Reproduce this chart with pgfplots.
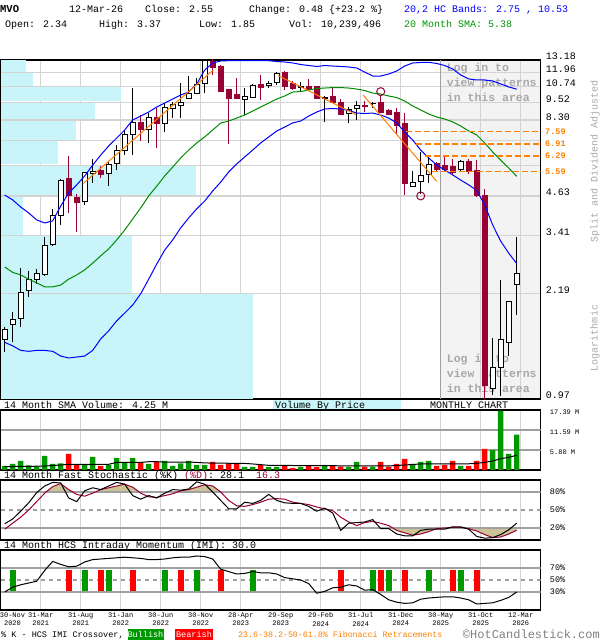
\documentclass[border=0pt]{standalone}
\usepackage{fontspec}
\setmainfont{Liberation Mono}
\usepackage{pgfplots}
\usepackage{pgfplotstable}
\pgfplotsset{compat=1.18}

\definecolor{candlered}{RGB}{153,0,51}
\definecolor{vbp}{RGB}{200,244,250}
\definecolor{gridgray}{RGB}{211,211,211}
\definecolor{linegray}{RGB}{160,160,160}
\definecolor{shade}{RGB}{243,243,243}
\definecolor{bandblue}{RGB}{0,0,255}
\definecolor{smagreen}{RGB}{0,140,0}
\definecolor{trendorange}{RGB}{255,128,0}
\definecolor{fiborange}{RGB}{255,128,0}
\definecolor{volgreen}{RGB}{0,153,0}
\definecolor{volred}{RGB}{255,0,0}
\definecolor{khaki}{RGB}{204,196,150}
\definecolor{textgray}{RGB}{168,168,168}
\definecolor{hdrblue}{RGB}{0,0,255}
\definecolor{hdrgreen}{RGB}{0,150,0}

% monthly candles: index, open, high, low, close
\pgfplotstableread{
i o h l c
0 1.53 1.69 1.39 1.66
1 1.72 1.89 1.50 1.79
2 1.80 2.65 1.69 2.20
3 2.23 2.59 2.13 2.43
4 2.43 2.64 2.35 2.54
5 2.52 3.38 2.50 3.15
6 3.19 4.18 3.15 3.97
7 3.98 5.28 3.71 5.23
8 5.31 6.31 4.05 4.64
9 4.58 4.70 3.51 4.41
10 4.45 5.58 4.33 5.53
11 5.50 6.13 5.12 5.58
12 5.63 5.84 5.31 5.47
13 5.50 5.99 4.99 5.89
14 5.93 6.86 5.65 6.59
15 6.59 7.69 6.36 7.42
16 7.42 10.60 6.34 8.16
17 8.16 8.63 7.07 7.71
18 7.71 8.75 6.94 8.48
19 8.48 9.09 6.68 8.07
20 8.10 9.45 7.59 9.13
21 9.04 9.57 8.41 9.33
22 9.28 11.02 8.41 9.53
23 9.82 11.68 9.76 10.20
24 10.20 11.45 10.12 10.93
25 11.02 13.60 10.25 13.10
26 13.10 13.60 11.70 12.50
27 12.60 12.65 10.40 10.40
28 10.50 10.50 6.90 9.80
29 10.15 11.50 9.80 9.80
30 9.76 10.60 8.63 9.96
31 9.90 10.93 9.87 10.87
32 10.96 11.75 9.69 10.65
33 10.84 11.20 10.60 11.02
34 11.10 12.00 10.87 11.90
35 11.95 12.10 10.46 10.80
36 11.02 11.20 10.50 10.60
37 10.65 11.15 10.30 10.73
38 10.80 11.40 10.50 10.50
39 10.73 10.80 9.80 9.82
40 9.82 10.00 8.20 9.90
41 9.96 10.60 9.46 9.50
42 9.53 9.76 8.63 8.70
43 8.75 9.15 8.10 9.00
44 9.04 9.62 8.30 9.28
45 9.30 9.62 8.85 9.26
46 9.40 9.57 9.11 9.45
47 9.50 10.03 8.80 8.80
48 8.97 9.02 8.65 8.67
49 8.80 9.08 7.38 8.00
50 8.10 8.75 4.65 5.12
51 4.98 5.59 4.95 5.13
52 5.19 6.50 4.70 5.43
53 5.45 6.34 5.12 5.89
54 5.95 6.02 5.56 5.70
55 5.84 6.24 5.59 5.70
56 5.81 6.14 5.49 5.57
57 5.67 6.11 5.57 6.03
58 6.03 6.17 5.49 5.59
59 5.65 6.10 4.60 4.67
60 4.67 4.90 0.95 1.08
61 1.05 1.55 1.00 1.24
62 1.24 2.42 0.99 1.53
63 1.50 2.07 1.35 2.05
64 2.34 3.37 1.85 2.55
}\candles

% HC bands (upper, lower) and 20 month SMA
\pgfplotstableread{
i ub lb sma
0 4.66 1.50 2.68
1 4.49 1.46 2.57
2 4.25 1.41 2.52
3 4.06 1.40 2.44
4 3.85 1.41 2.37
5 3.76 1.41 2.30
6 3.82 1.40 2.30
7 4.28 1.35 2.33
8 4.74 1.33 2.44
9 5.04 1.34 2.52
10 5.40 1.35 2.62
11 5.87 1.41 2.76
12 6.34 1.54 2.92
13 6.80 1.64 3.08
14 7.23 1.77 3.30
15 7.69 1.88 3.56
16 8.31 2.00 3.88
17 8.56 2.18 4.22
18 8.83 2.44 4.63
19 9.18 2.74 4.99
20 9.46 3.05 5.40
21 9.76 3.30 5.78
22 10.07 3.62 6.20
23 10.30 3.91 6.59
24 10.96 4.19 6.96
25 12.20 4.45 7.29
26 12.88 4.81 7.69
27 13.08 5.15 8.11
28 13.11 5.57 8.24
29 13.11 5.92 8.43
30 13.11 6.25 8.63
31 13.11 6.59 8.90
32 13.11 6.96 9.18
33 13.11 7.29 9.46
34 13.03 7.63 9.76
35 12.98 7.87 9.99
36 12.88 8.12 10.30
37 12.73 8.24 10.34
38 12.63 8.56 10.46
39 12.54 8.83 10.58
40 12.63 9.04 10.62
41 12.58 9.07 10.66
42 12.54 9.04 10.66
43 12.49 8.94 10.62
44 12.39 8.76 10.54
45 12.01 8.73 10.42
46 11.65 8.76 10.22
47 11.65 8.63 10.14
48 11.83 8.43 9.99
49 12.11 8.12 9.87
50 12.58 7.57 9.61
51 12.88 7.12 9.25
52 12.93 6.59 8.97
53 12.95 6.20 8.70
54 12.83 5.87 8.50
55 12.63 5.65 8.37
56 12.30 5.44 8.18
57 11.74 5.23 7.93
58 11.39 5.04 7.63
59 11.30 4.83 7.40
60 11.30 4.32 6.96
61 11.21 3.70 6.49
62 10.96 3.27 6.10
63 10.71 2.98 5.74
64 10.53 2.75 5.38
}\bands

% volume by price: price band low, high, bar length (in months)
\pgfplotstableread{
lo hi len
12.03 13.18 2.625
10.80 11.89 3.59
9.58 10.68 14.5
8.35 9.46 11.25
7.12 8.25 8.875
5.90 7.04 6.71
4.66 5.82 23.9
3.43 4.60 2.34
2.20 3.39 15.9
0.97 2.18 31.0
}\vbpdata

% trend lines, retracement levels, pattern circles
\pgfplotstableread[row sep=\\]{x y\\ 9.83 5.10\\ 26.08 12.20\\}\trendA
\pgfplotstableread[row sep=\\]{x y\\ 34.2 11.68\\ 43.9 8.66\\}\trendB
\pgfplotstableread[row sep=\\]{x y\\ 44.8 10.07\\ 54.0 5.18\\}\trendC
\pgfplotstableread[row sep=\\]{x y\\ 50.1 7.59\\ 67 7.59\\}\fibA
\pgfplotstableread[row sep=\\]{x y\\ 51.4 6.91\\ 67 6.91\\}\fibB
\pgfplotstableread[row sep=\\]{x y\\ 52.5 6.29\\ 67 6.29\\}\fibC
\pgfplotstableread[row sep=\\]{x y\\ 53.4 5.59\\ 67 5.59\\}\fibD
\pgfplotstableread[row sep=\\]{x y\\ 47 10.33\\ 52 4.63\\}\circs
\pgfplotstableread[row sep=\\]{x y\\ 54.5 0.97\\ 54.5 13.18\\}\patternedge

% volume (millions), up flag, 14 month SMA of volume
\pgfplotstableread{
i v u s
0 1.16 1 1.00
1 1.74 1 1.00
2 2.61 1 1.05
3 1.36 1 1.05
4 1.06 1 1.10
5 4.06 1 1.15
6 1.74 1 1.30
7 1.93 1 1.45
8 4.64 0 1.65
9 1.55 0 1.65
10 1.64 1 1.65
11 3.77 1 1.65
12 1.16 0 1.65
13 1.45 1 1.65
14 3.48 1 2.20
15 2.22 1 2.20
16 3.48 1 2.20
17 2.13 0 2.20
18 1.74 1 2.40
19 2.32 0 2.40
20 2.61 1 2.30
21 1.16 1 2.30
22 1.93 1 2.30
23 2.61 1 2.30
24 1.45 1 2.20
25 1.45 1 2.05
26 2.32 0 2.00
27 1.45 0 2.00
28 1.93 0 1.95
29 1.93 0 1.95
30 0.87 1 1.90
31 0.87 1 1.75
32 1.45 0 1.55
33 0.87 1 1.35
34 0.87 1 1.35
35 1.26 0 1.35
36 0.58 0 1.30
37 0.87 1 1.30
38 1.26 0 1.30
39 0.87 0 1.26
40 1.45 1 1.26
41 1.36 0 1.26
42 0.97 0 1.20
43 0.87 1 1.20
44 2.32 1 1.20
45 0.97 0 1.20
46 0.97 1 1.20
47 2.32 0 1.16
48 0.97 0 1.16
49 1.74 0 1.30
50 3.19 0 1.45
51 1.74 1 1.60
52 2.32 1 1.74
53 2.61 1 1.74
54 1.16 0 1.74
55 1.45 0 1.74
56 2.61 0 1.74
57 1.16 1 1.74
58 1.16 0 1.80
59 2.61 0 1.93
60 6.09 0 2.22
61 5.80 1 2.61
62 17.10 1 3.29
63 4.64 1 3.67
64 10.24 1 4.25
}\volume

% fast stochastic %K, %D and intraday momentum
\pgfplotstableread{
i k d m
0 27 18 30
1 35 28 38
2 48 38 42
3 62 50 45
4 79 64 48
5 90 78 66
6 96 89 81
7 95 94 76
8 70 84 72
9 64 76 73
10 82 73 80
11 87 78 84
12 84 84 85
13 90 87 86
14 96 90 87
15 93 93 88
16 74 88 87
17 68 78 86
18 74 72 84
19 70 71 84
20 78 74 85
21 84 77 87
22 83 82 88
23 85 84 88
24 97 88 90
25 93 92 89
26 80 90 85
27 66 80 68
28 52 66 64
29 52 57 60
30 63 56 61
31 61 59 64
32 66 63 62
33 76 68 62
34 66 69 60
35 62 68 54
36 61 63 52
37 61 61 50
38 56 59 44
39 48 55 28
40 53 52 31
41 45 49 37
42 16 38 38
43 28 30 42
44 29 24 40
45 30 29 33
46 34 31 34
47 19 28 26
48 19 24 17
49 10 16 13
50 7 12 11
51 7 8 12
52 16 10 18
53 18 14 20
54 18 19 21
55 18 20 22
56 22 21 22
57 22 21 20
58 18 19 17
59 6 15 10
60 3 9 11
61 4 4 12
62 9 5 16
63 17 10 21
64 28.1 16.3 30
}\osc

\pgfplotsset{
  panel/.style={
    scale only axis, width=540bp, anchor=south west,
    xmin=-0.5, xmax=67,
    xtick={-0.5,4.5,9.5,14.5,19.5,24.5,29.5,34.5,39.5,44.5,49.5,54.5,59.5,64.5},
    xticklabels={},
    xmajorgrids,
    major grid style={draw=gridgray, line width=1.3bp},
    major tick length=0pt,
    tick style={draw=none},
    yticklabel pos=right,
    axis line style={draw=black, line width=1.5bp},
    clip=true,
  },
  % price panel: vertical coordinate is the natural log of the price (logarithmic scale)
  mainoverlay/.style={
    scale only axis, width=540bp, height=339bp, anchor=south west, at={(0.7bp,241bp)},
    xmin=-0.5, xmax=67, ymin=-0.030459, ymax=2.578700, hide axis, clip=true,
  },
}

\begin{document}
\begin{tikzpicture}[x=1bp,y=1bp]
\path (0,0) rectangle (600,640);

% ---------- header ----------
\begin{scope}[every node/.style={anchor=base west, inner sep=0pt, font=\fontsize{10bp}{12bp}\selectfont}]
\node[font=\fontsize{10.5bp}{12bp}\selectfont\bfseries] at (0,627) {MVO};
\node at (69,627) {12-Mar-26};
\node at (145,627) {Close: 2.55};
\node at (249,627) {Change: 0.48 \{+23.2 \%\}};
\node[text=hdrblue] at (404,627) {20,2 HC Bands: 2.75 , 10.53};
\node at (5,612) {Open: 2.34};
\node at (99,612) {High: 3.37};
\node at (199,612) {Low: 1.85};
\node at (289,612) {Vol: 10,239,496};
\node[text=hdrgreen] at (404,612) {20 Month SMA: 5.38};
\end{scope}

% ---------- shaded "patterns" area ----------
\begin{axis}[scale only axis, width=540bp, height=339bp, anchor=south west, at={(0.7bp,241bp)},
  xmin=-0.5, xmax=67, ymin=0, ymax=1, hide axis]
\addplot[fill=shade, draw=none] coordinates {(54.5,0) (67,0) (67,1) (54.5,1)} -- cycle;
\end{axis}

% ---------- main price panel: frame, grid, volume by price ----------
\begin{axis}[panel, at={(0.7bp,241bp)}, height=339bp,
  ymin=-0.030459, ymax=2.578700,
  ytick={-0.030459,0.783902,1.226712,1.532557,1.768150,1.957274,2.116256,2.253395,2.373975,2.481568,2.578700},
  yticklabels={0.97,2.19,3.41,4.63,,,8.30,9.52,10.74,11.96,13.18},
  ymajorgrids,
  yticklabel style={anchor=base west, inner sep=0pt, xshift=5bp, font=\fontsize{10bp}{12bp}\selectfont},
]
\pgfplotsinvokeforeach{0,...,9}{
  \pgfplotstablegetelem{#1}{lo}\of\vbpdata \pgfmathparse{ln(\pgfplotsretval)}\let\vA\pgfmathresult
  \pgfplotstablegetelem{#1}{hi}\of\vbpdata \pgfmathparse{ln(\pgfplotsretval)}\let\vB\pgfmathresult
  \pgfplotstablegetelem{#1}{len}\of\vbpdata \let\vL\pgfplotsretval
  \edef\tmp{\noexpand\addplot[fill=vbp, draw=none] coordinates {(-0.5,\vA) (\vL,\vA) (\vL,\vB) (-0.5,\vB)} -- cycle;}
  \tmp
}
\addplot[linegray, line width=1.3bp] table[x=x, y expr=ln(\thisrow{y})] {\patternedge};
\end{axis}

% pattern notes (behind candles)
\begin{scope}[every node/.style={anchor=base west, inner sep=0pt, text=textgray, font=\fontsize{11.5bp}{13bp}\selectfont\bfseries}]
\node at (446.7,568.7) {Log in to};
\node at (446.7,553.7) {view patterns};
\node at (446.7,538.7) {in this area};
\node at (446.7,277) {Log in to};
\node at (446.7,262) {view patterns};
\node at (446.7,247) {in this area};
\end{scope}

% Fibonacci labels
\begin{scope}[every node/.style={anchor=base west, inner sep=0pt, text=fiborange, font=\fontsize{8.5bp}{10bp}\selectfont\bfseries}]
\node at (545,505.5) {7.59};
\node at (545,493.3) {6.91};
\node at (545,481.1) {6.29};
\node at (545,465.8) {5.59};
\end{scope}

% ---------- candles ----------
\begin{axis}[mainoverlay]
\pgfplotsinvokeforeach{0,...,64}{
  \pgfplotstablegetelem{#1}{o}\of\candles \let\cO\pgfplotsretval
  \pgfplotstablegetelem{#1}{h}\of\candles \let\cH\pgfplotsretval
  \pgfplotstablegetelem{#1}{l}\of\candles \let\cL\pgfplotsretval
  \pgfplotstablegetelem{#1}{c}\of\candles \let\cC\pgfplotsretval
  \pgfmathparse{ln(\cO)}\let\lO\pgfmathresult
  \pgfmathparse{ln(\cH)}\let\lH\pgfmathresult
  \pgfmathparse{ln(\cL)}\let\lL\pgfmathresult
  \pgfmathparse{ln(\cC)}\let\lC\pgfmathresult
  \ifdim\cC pt<\cO pt
    \pgfmathsetmacro\xa{#1-0.35}\pgfmathsetmacro\xb{#1+0.35}
    \edef\tmp{\noexpand\addplot[candlered, line width=1.2bp] coordinates {(#1,\lL) (#1,\lH)};
      \noexpand\addplot[fill=candlered, draw=candlered, line width=0.5bp] coordinates {(\xa,\lO) (\xb,\lO) (\xb,\lC) (\xa,\lC)} -- cycle;}
  \else
    \pgfmathsetmacro\xa{#1-0.3}\pgfmathsetmacro\xb{#1+0.3}
    \edef\tmp{\noexpand\addplot[black, line width=1.2bp] coordinates {(#1,\lL) (#1,\lH)};
      \noexpand\addplot[fill=white, draw=black, line width=1bp] coordinates {(\xa,\lO) (\xb,\lO) (\xb,\lC) (\xa,\lC)} -- cycle;}
  \fi
  \tmp
}
\end{axis}

% ---------- bands, trend lines, retracements ----------
\begin{axis}[mainoverlay]
\addplot[bandblue, line width=1bp] table[x=i, y expr=ln(\thisrow{ub})] {\bands};
\addplot[bandblue, line width=1bp] table[x=i, y expr=ln(\thisrow{lb})] {\bands};
\addplot[smagreen, line width=1bp] table[x=i, y expr=ln(\thisrow{sma})] {\bands};
\addplot[trendorange, line width=1bp] table[x=x, y expr=ln(\thisrow{y})] {\trendA};
\addplot[trendorange, line width=1bp] table[x=x, y expr=ln(\thisrow{y})] {\trendB};
\addplot[trendorange, line width=1bp] table[x=x, y expr=ln(\thisrow{y})] {\trendC};
\addplot[fiborange, line width=1.3bp, dash pattern=on 6bp off 3bp] table[x=x, y expr=ln(\thisrow{y})] {\fibA};
\addplot[fiborange, line width=1.3bp, dash pattern=on 6bp off 3bp] table[x=x, y expr=ln(\thisrow{y})] {\fibB};
\addplot[fiborange, line width=1.3bp, dash pattern=on 6bp off 3bp] table[x=x, y expr=ln(\thisrow{y})] {\fibC};
\addplot[fiborange, line width=1.3bp, dash pattern=on 6bp off 3bp] table[x=x, y expr=ln(\thisrow{y})] {\fibD};
\addplot[only marks, mark=o, candlered, mark size=4bp, line width=1bp] table[x=x, y expr=ln(\thisrow{y})] {\circs};
\end{axis}

\node[rotate=90, inner sep=0pt, text=textgray, font=\fontsize{10bp}{12bp}\selectfont] at (595,479) {Split and Dividend Adjusted};
\node[rotate=90, inner sep=0pt, text=textgray, font=\fontsize{10bp}{12bp}\selectfont] at (595,302) {Logarithmic};

% ---------- panel titles ----------
\fill[vbp] (273,230) rectangle (401,240);
\begin{scope}[every node/.style={anchor=base west, inner sep=0pt, font=\fontsize{10bp}{12bp}\selectfont}]
\node at (4,231) {14 Month SMA Volume: 4.25 M};
\node at (275,231) {Volume By Price};
\node at (430,231) {MONTHLY CHART};
\node at (4,161) {14 Month Fast Stochastic (\%K) \textcolor{candlered}{(\%D)}:~28.1~~\textcolor{candlered}{16.3}};
\node at (4,91) {14 Month HCS Intraday Momentum (IMI): 30.0};
\end{scope}

% ---------- volume panel ----------
\begin{axis}[panel, at={(0.7bp,170bp)}, height=60bp, ymin=0, ymax=17.39,
  ytick={5.80,11.59,17.39}, yticklabels={5.80 M,11.59 M,17.39 M},
  yticklabel style={anchor=base west, inner sep=0pt, xshift=9bp, yshift=-4.5bp, font=\fontsize{7bp}{8bp}\selectfont}]
\addplot[linegray, line width=1.3bp] coordinates {(-0.5,5.80) (67,5.80)};
\addplot[linegray, line width=1.3bp] coordinates {(-0.5,11.59) (67,11.59)};
\addplot[ybar, bar width=0.68, bar shift=0pt, fill=volgreen, draw=none] table[x=i, y expr=\thisrow{u}*\thisrow{v}] {\volume};
\addplot[ybar, bar width=0.68, bar shift=0pt, fill=volred, draw=none] table[x=i, y expr=(1-\thisrow{u})*\thisrow{v}] {\volume};
\addplot[black, line width=1bp] table[x=i,y=s] {\volume};
\end{axis}

% ---------- stochastic panel ----------
\begin{axis}[panel, at={(0.7bp,100bp)}, height=60bp, ymin=0, ymax=100,
  ytick={20,50,80}, yticklabels={20\%,50\%,80\%},
  yticklabel style={anchor=base west, inner sep=0pt, xshift=9bp, yshift=-2.8bp, font=\fontsize{8.5bp}{10bp}\selectfont}]
\addplot[fill=khaki, draw=none] table[x=i, y expr={max(\thisrow{d},80)}] {\osc} -- (axis cs:64,80) -- (axis cs:0,80) -- cycle;
\addplot[fill=khaki, draw=none] table[x=i, y expr={min(\thisrow{d},20)}] {\osc} -- (axis cs:64,20) -- (axis cs:0,20) -- cycle;
\addplot[linegray, line width=1.3bp] coordinates {(-0.5,80) (67,80)};
\addplot[linegray, line width=1.3bp] coordinates {(-0.5,20) (67,20)};
\addplot[linegray, line width=1.3bp, dash pattern=on 4bp off 4bp] coordinates {(-0.5,50) (67,50)};
\addplot[candlered, line width=1bp] table[x=i,y=d] {\osc};
\addplot[black, line width=1bp] table[x=i,y=k] {\osc};
\end{axis}

% ---------- IMI panel ----------
\begin{axis}[panel, at={(0.7bp,30bp)}, height=60bp, ymin=0, ymax=100,
  ytick={30,50,70}, yticklabels={30\%,50\%,70\%},
  yticklabel style={anchor=base west, inner sep=0pt, xshift=9bp, yshift=-2.8bp, font=\fontsize{8.5bp}{10bp}\selectfont},
  xticklabels={{},{31-Mar\\2021},{31-Aug\\2021},{31-Jan\\2022},{30-Jun\\2022},{30-Nov\\2022},{28-Apr\\2023},{29-Sep\\2023},{29-Feb\\2024},{31-Jul\\2024},{31-Dec\\2024},{30-May\\2025},{31-Oct\\2025},{12-Mar\\2026}},
  xticklabel style={align=center, anchor=north, inner sep=0pt, yshift=-2.5bp, font=\fontsize{7bp}{8.5bp}\selectfont}]
\addplot[linegray, line width=1.3bp] coordinates {(-0.5,70) (67,70)};
\addplot[linegray, line width=1.3bp] coordinates {(-0.5,30) (67,30)};
\addplot[linegray, line width=1.3bp, dash pattern=on 4bp off 4bp] coordinates {(-0.5,50) (67,50)};
\pgfplotsinvokeforeach{1,10,13,20,24,31,46,48,53,57}{
  \pgfmathsetmacro\xa{#1-0.375}\pgfmathsetmacro\xb{#1+0.375}
  \edef\tmp{\noexpand\addplot[fill=volgreen, draw=none] coordinates {(\xa,32) (\xb,32) (\xb,67) (\xa,67)} -- cycle;}
  \tmp
}
\pgfplotsinvokeforeach{8,12,16,22,27,42,47,50,56,59}{
  \pgfmathsetmacro\xa{#1-0.375}\pgfmathsetmacro\xb{#1+0.375}
  \edef\tmp{\noexpand\addplot[fill=volred, draw=none] coordinates {(\xa,32) (\xb,32) (\xb,67) (\xa,67)} -- cycle;}
  \tmp
}
\addplot[black, line width=1bp] table[x=i,y=m] {\osc};
\end{axis}
\node[align=center, anchor=north, inner sep=0pt, font=\fontsize{7bp}{8.5bp}\selectfont] at (12.5,27.5) {30-Nov\\2020};

% ---------- footer legend ----------
\node[anchor=base west, inner sep=0pt, font=\fontsize{8.5bp}{10bp}\selectfont] at (1,2) {\%~K - HCS IMI Crossover,};
\fill[volgreen] (127.5,0) rectangle (163.5,11);
\node[anchor=base, inner sep=0pt, text=white, font=\fontsize{8.5bp}{10bp}\selectfont] at (145.5,2.5) {Bullish};
\fill[volred] (175,0) rectangle (213,11);
\node[anchor=base, inner sep=0pt, text=white, font=\fontsize{8.5bp}{10bp}\selectfont] at (194,2.5) {Bearish};
\node[anchor=base west, inner sep=0pt, text=fiborange, font=\fontsize{8.3bp}{10bp}\selectfont] at (238,2) {23.6-38.2-50-61.8\% Fibonacci Retracements};
\node[anchor=base east, inner sep=0pt, text=gray, font=\fontsize{12bp}{14bp}\selectfont] at (600,1) {\textcopyright HotCandlestick.com};

\pgfresetboundingbox
\useasboundingbox (0,0) rectangle (600,640);
\end{tikzpicture}
\end{document}
